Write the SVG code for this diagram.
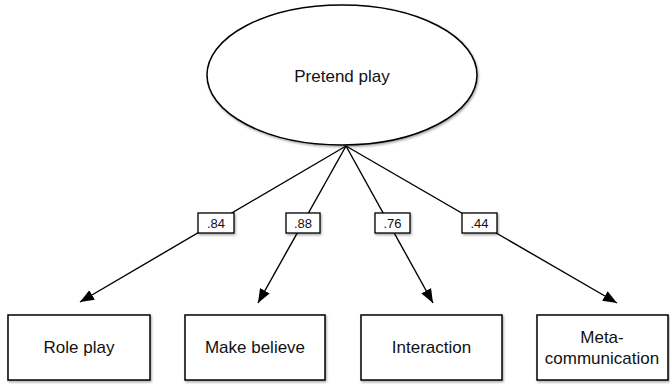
<svg xmlns="http://www.w3.org/2000/svg" width="670" height="384" viewBox="0 0 670 384">
<defs>
<filter id="sh" x="-10%" y="-10%" width="130%" height="130%">
<feDropShadow dx="1" dy="1.5" stdDeviation="1.2" flood-color="#000" flood-opacity="0.35"/>
</filter>
<marker id="ah" viewBox="0 0 14 12" refX="14" refY="6" markerWidth="14" markerHeight="12" markerUnits="userSpaceOnUse" orient="auto">
<path d="M0,0.5 L14,6 L0,11.5 z" fill="#000"/>
</marker>
</defs>
<style>
.n{fill:#fff;stroke:#000;stroke-width:1.5;filter:url(#sh)}
.t{font-family:"Liberation Sans",Arial,sans-serif;font-size:17px;fill:#111;text-anchor:middle}
.l{font-family:"Liberation Sans",Arial,sans-serif;font-size:13px;fill:#111;text-anchor:middle}
.c{stroke:#000;stroke-width:1.4;fill:none;marker-end:url(#ah)}
.lb{fill:#fff;stroke:#000;stroke-width:1.3;filter:url(#sh)}
</style>
<g id="connectors">
<line class="c" x1="346" y1="146" x2="80" y2="302"/>
<line class="c" x1="346" y1="146" x2="258" y2="303"/>
<line class="c" x1="346" y1="146" x2="433" y2="303"/>
<line class="c" x1="346" y1="146" x2="617" y2="303"/>
<g id="labels">
<rect class="lb" x="198" y="213" width="36" height="20"/><text class="l" x="216" y="228">.84</text>
<rect class="lb" x="286" y="213" width="34" height="20"/><text class="l" x="303" y="228">.88</text>
<rect class="lb" x="375" y="213" width="35" height="20"/><text class="l" x="392.5" y="228">.76</text>
<rect class="lb" x="462" y="213" width="35" height="20"/><text class="l" x="479.5" y="228">.44</text>
</g>
</g>
<g id="pretend-play">
<ellipse class="n" cx="342" cy="75" rx="135" ry="70"/>
<text class="t" x="342" y="82">Pretend play</text>
</g>
<g id="role-play">
<rect class="n" x="8" y="315" width="142" height="65"/>
<text class="t" x="79" y="353">Role play</text>
</g>
<g id="make-believe">
<rect class="n" x="185" y="315" width="140" height="65"/>
<text class="t" x="255" y="353">Make believe</text>
</g>
<g id="interaction">
<rect class="n" x="361" y="315" width="141" height="65"/>
<text class="t" x="431.5" y="353">Interaction</text>
</g>
<g id="meta-communication">
<rect class="n" x="537" y="315" width="131" height="65"/>
<text class="t" x="602" y="343">Meta-</text>
<text class="t" x="602" y="364">communication</text>
</g>
</svg>
